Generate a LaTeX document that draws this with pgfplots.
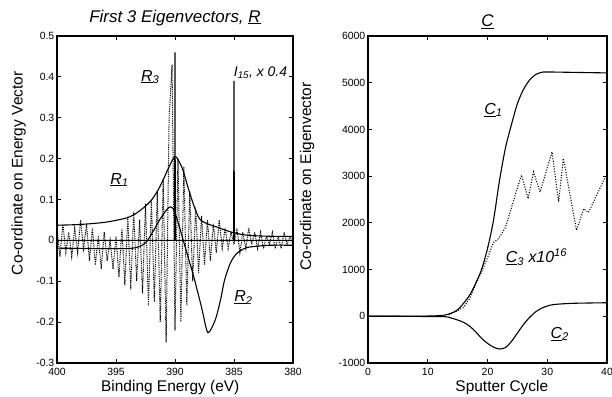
\documentclass[border=0pt]{standalone}
\usepackage{fontspec}
\setmainfont{Liberation Sans}
\usepackage{pgfplots}
\pgfplotsset{compat=1.18}
\begin{document}
\begin{tikzpicture}
\path[use as bounding box] (0,0) rectangle (612bp,397bp);
\pgfplotsset{every axis/.append style={scale only axis, anchor=south west,
  axis line style={line width=1.2bp}, tick style={line width=0.8bp, black},
  major tick length=4bp, tick align=inside,
  ticklabel style={font=\fontsize{10.5}{12}\selectfont},
  xticklabel style={yshift=-1.5bp},
  yticklabel style={xshift=-0.5bp, inner xsep=2bp},
  label style={font=\fontsize{15.5}{18}\selectfont},
  title style={font=\fontsize{17}{20}\selectfont\itshape},
  /pgf/number format/assume math mode=true, /pgf/number format/1000 sep={}}}
% ---------------- left panel ----------------
\begin{axis}[at={(57bp,34bp)}, width=236bp, height=327bp,
  x dir=reverse, xmin=380, xmax=400, ymin=-0.3, ymax=0.5,
  xtick={380,385,390,395,400},
  ytick={-0.3,-0.2,-0.1,0,0.1,0.2,0.3,0.4,0.5},
  yticklabel style={/pgf/number format/fixed, /pgf/number format/precision=1},
  xlabel={Binding Energy (eV)}, ylabel={Co-ordinate on Energy Vector},
  xlabel style={at={(axis description cs:0.48,-0.076)}, anchor=center},
  ylabel style={at={(axis description cs:-0.163,0.58)}, anchor=center},
  title={First 3 Eigenvectors, \underline{R}},
  title style={at={(axis description cs:0.5,1.037)}, anchor=center}]
% I15 x 0.4 (baseline with spikes)
\addplot[black, line width=1.1bp] coordinates {(400,0) (390.03,0) (390,0.46) (389.97,0) (385.03,0) (385,0.39) (384.97,0) (380,0)};
% R1
\addplot[black, line width=1.1bp, smooth] coordinates {
(400,0.037) (398,0.039) (396,0.044) (394.5,0.052) (393.8,0.058) (393,0.072) (392.1,0.095) (391.5,0.12) (391,0.148) (390.5,0.18) (390,0.205) (389.6,0.19) (389.3,0.17) (388.9,0.13) (388.4,0.085) (387.9,0.052) (387.2,0.04) (386.5,0.033) (385.3,0.021) (384,0.013) (382,0.010) (380,0.010)};
% R2
\addplot[black, line width=1.1bp, smooth] coordinates {
(400,-0.019) (397,-0.020) (394,-0.020) (393,-0.015) (392.4,-0.003) (391.8,0.025) (391.2,0.055) (390.7,0.075) (390.4,0.082) (390.1,0.075) (389.7,0.04) (389.3,0) (388.8,-0.05) (388.4,-0.09) (387.7,-0.17) (387.4,-0.21) (387.2,-0.226) (386.9,-0.215) (386.5,-0.187) (386.1,-0.14) (385.8,-0.097) (385.3,-0.055) (384.8,-0.033) (384.2,-0.021) (383.6,-0.016) (382,-0.012) (380,-0.012)};
% R3 (dotted)
\addplot[black, line width=1bp, dash pattern=on 0.9bp off 0.9bp] coordinates {
(400.00,0.03) (399.75,-0.04) (399.50,0.04) (399.25,-0.03) (399.00,0.02) (398.75,-0.04)
(398.50,0.03) (398.25,-0.03) (398.00,0.05) (397.75,-0.02) (397.50,0.04) (397.25,-0.05)
(397.00,0.03) (396.75,-0.06) (396.50,0.01) (396.25,-0.07) (396.00,0.02) (395.75,-0.05)
(395.50,0.00) (395.25,-0.07) (395.00,0.01) (394.75,-0.09) (394.50,0.03) (394.25,-0.11)
(394.00,0.06) (393.75,-0.12) (393.50,0.07) (393.25,-0.10) (393.00,0.05) (392.75,-0.13)
(392.50,0.09) (392.25,-0.16) (392.00,0.10) (391.75,-0.15) (391.50,0.12) (391.25,-0.20)
(391.00,0.15) (390.75,-0.25) (390.50,0.30) (390.25,0.43) (390.00,-0.22) (389.75,0.20)
(389.50,-0.20) (389.25,0.18) (389.00,-0.16) (388.75,0.12) (388.50,-0.10) (388.25,0.08)
(388.00,-0.08) (387.75,0.06) (387.50,-0.06) (387.25,0.05) (387.00,-0.05) (386.75,0.04)
(386.50,-0.03) (386.25,0.05) (386.00,-0.02) (385.75,0.03) (385.50,-0.02) (385.25,0.02)
(385.00,-0.01) (384.75,0.03) (384.50,-0.03) (384.25,0.02) (384.00,-0.02) (383.75,0.03)
(383.50,-0.01) (383.25,0.02) (383.00,-0.02) (382.75,0.02) (382.50,-0.02) (382.25,0.01)
(382.00,-0.01) (381.75,0.02) (381.50,-0.02) (381.25,0.01) (381.00,-0.02) (380.75,0.02)
(380.50,-0.01) (380.25,0.01) (380.00,-0.01)};
\node[font=\fontsize{16}{19}\selectfont\itshape] at (axis cs:392.1,0.40) {\underline{R}\textsubscript{3}};
\node[font=\fontsize{16}{19}\selectfont\itshape] at (axis cs:394.7,0.148) {\underline{R}\textsubscript{1}};
\node[font=\fontsize{16}{19}\selectfont\itshape] at (axis cs:384.2,-0.14) {\underline{R}\textsubscript{2}};
\node[font=\fontsize{14}{17}\selectfont\itshape, anchor=east] at (axis cs:380.2,0.41) {I\textsubscript{15}, x 0.4};
\end{axis}
% ---------------- right panel ----------------
\begin{axis}[at={(368bp,34bp)}, width=239bp, height=327bp,
  xmin=0, xmax=40, ymin=-1000, ymax=6000,
  xtick={0,10,20,30,40},
  ytick={-1000,0,1000,2000,3000,4000,5000,6000},
  scaled y ticks=false,
  xlabel={Sputter Cycle}, ylabel={Co-ordinate on Eigenvector},
  xlabel style={at={(axis description cs:0.56,-0.076)}, anchor=center},
  ylabel style={at={(axis description cs:-0.255,0.57)}, anchor=center},
  title={\underline{C}},
  title style={at={(axis description cs:0.5,1.025)}, anchor=center}]
% C1
\addplot[black, line width=1.1bp, smooth] coordinates {
(0,0) (5,0) (10,5) (12,15) (13,30) (14,70) (15,140) (16,280) (17,450) (18,700) (19,1000) (20,1450) (21,2050) (22,2900) (23,3600) (24,4100) (25,4550) (26,4850) (27,5050) (28,5170) (29,5220) (30,5230) (35,5220) (40,5210)};
% C2
\addplot[black, line width=1.1bp, smooth] coordinates {
(0,0) (5,0) (10,-5) (13,-10) (14,-40) (15,-80) (16,-130) (17,-210) (18,-330) (19,-470) (20,-580) (21,-660) (22,-700) (23,-670) (24,-540) (25,-360) (26,-180) (27,-30) (28,90) (29,170) (30,220) (31,250) (33,270) (35,280) (40,290)};
% C3 x 1e16 (dotted)
\addplot[black, line width=1.1bp, dash pattern=on 1bp off 1.6bp] coordinates {
(13.5,30) (14,60) (15,120) (16,190) (17,380) (18,680) (19,950) (20,1250) (21,1580) (21.8,1660) (22,1690) (23,1900) (24,2320) (25,2750) (25.7,3020) (26.8,2520) (27.7,3090) (28.8,2660) (30.8,3520) (31.9,2450) (32.7,3380) (34.9,1840) (36.1,2300) (36.9,2220) (39.7,2980) (40,3050)};
\node[font=\fontsize{16}{19}\selectfont\itshape] at (axis cs:21,4415) {\underline{C}\textsubscript{1}};
\node[font=\fontsize{16}{19}\selectfont\itshape] at (axis cs:28.2,1270) {\underline{C}\textsubscript{3} x10\textsuperscript{16}};
\node[font=\fontsize{16}{19}\selectfont\itshape] at (axis cs:32.1,-380) {\underline{C}\textsubscript{2}};
\end{axis}
\end{tikzpicture}
\end{document}
